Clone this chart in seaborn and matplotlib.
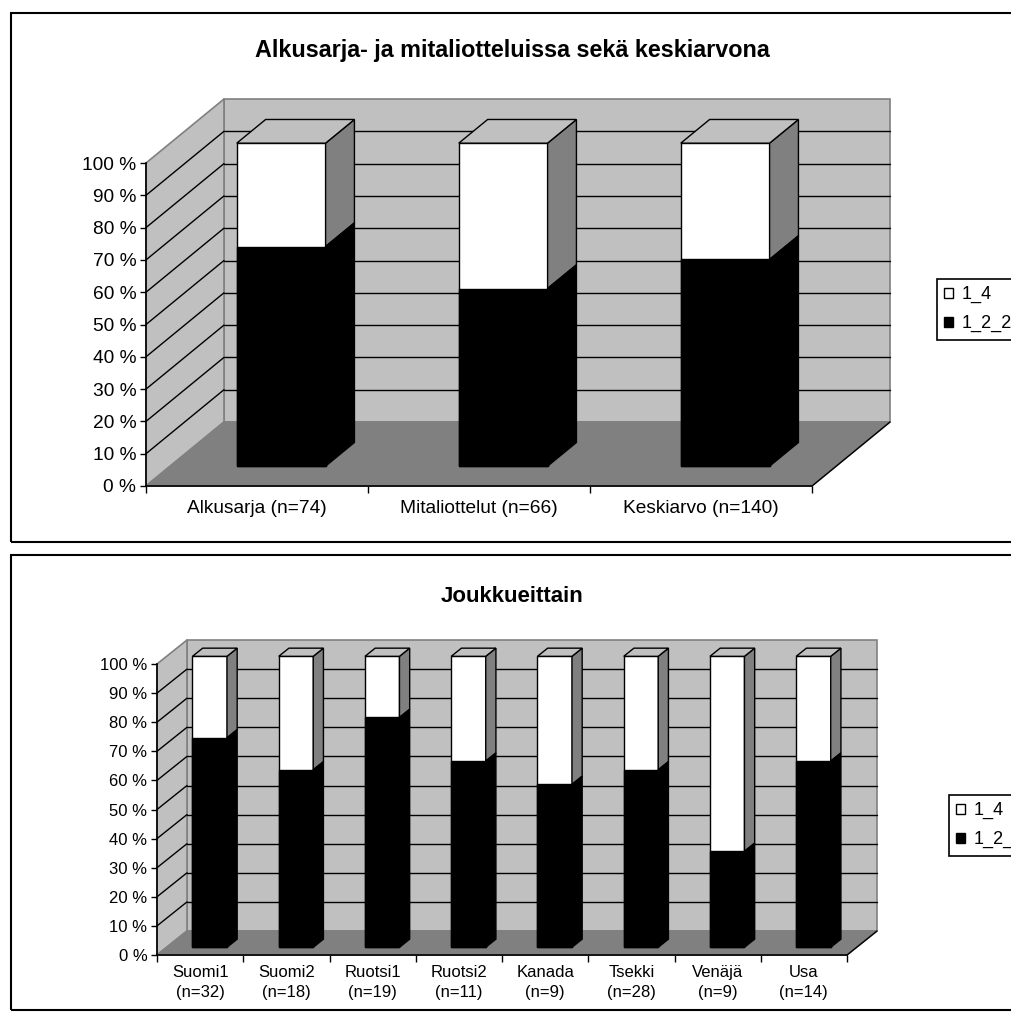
import numpy as np
import pandas as pd
import matplotlib
matplotlib.use("Agg")
import matplotlib.pyplot as plt
import seaborn as sns
from matplotlib.patches import Polygon, Rectangle, Patch
from matplotlib.lines import Line2D

sns.set_theme(style="white")
plt.rcParams["font.family"] = ["Liberation Sans", "DejaVu Sans"]

# ---- data -------------------------------------------------------------
phase_title = "Alkusarja- ja mitaliotteluissa sekä keskiarvona"
phase_labels = ["Alkusarja (n=74)", "Mitaliottelut (n=66)", "Keskiarvo (n=140)"]
phase_1_2_2 = [68, 55, 64]
phase_1_4 = [32, 45, 36]

team_title = "Joukkueittain"
team_labels = ["Suomi1\n(n=32)", "Suomi2\n(n=18)", "Ruotsi1\n(n=19)",
               "Ruotsi2\n(n=11)", "Kanada\n(n=9)", "Tsekki\n(n=28)",
               "Venäjä\n(n=9)", "Usa\n(n=14)"]
team_1_2_2 = [72, 61, 79, 64, 56, 61, 33, 64]
team_1_4 = [28, 39, 21, 36, 44, 39, 67, 36]

series_names = ["1_4", "1_2_2"]
pct_ticks = list(range(0, 101, 10))
pct_labels = [f"{t} %" for t in pct_ticks]

# ---- figure -----------------------------------------------------------
W, H = 1011, 1023
fig = plt.figure(figsize=(W / 100, H / 100), dpi=100)

WALL = "#c0c0c0"
FLOOR = "#808080"
SIDE = "#808080"
EDGE = "#808080"


def fig_rect(left, top, right, bottom):
    return [left / W, 1 - bottom / H, (right - left) / W, (bottom - top) / H]


def draw_chart(rect_px, labels, black_vals, white_vals, depth_px, bar_depth,
               fs, xpad, width=0.4, linespacing=1.2):
    left, top, right, bottom = rect_px
    ax = fig.add_axes(fig_rect(*rect_px))
    n = len(labels)
    w_px = right - left
    h_px = bottom - top
    DX = depth_px[0] / (w_px / n)
    DY = depth_px[1] / (h_px / 100.0)
    d0, d1 = bar_depth

    def P(x, y, d):
        return (x + d * DX, y + d * DY)

    totals = [b + w for b, w in zip(black_vals, white_vals)]
    df = pd.DataFrame({"label": labels, "total": totals, "black": black_vals})

    # front faces of the stacked bars
    sns.barplot(data=df, x="label", y="total", color="white", edgecolor="black",
                linewidth=1, width=width, saturation=1, errorbar=None, ax=ax,
                zorder=4)
    sns.barplot(data=df, x="label", y="black", color="black", edgecolor="black",
                linewidth=1, width=width, saturation=1, errorbar=None, ax=ax,
                zorder=5)
    for p in ax.patches:
        p.set_x(p.get_x() + d0 * DX)
        p.set_y(p.get_y() + d0 * DY)
        p.set_clip_on(False)

    # side and top faces
    for i, (b, t) in enumerate(zip(black_vals, totals)):
        xl, xr = i - width / 2, i + width / 2
        ax.add_patch(Polygon([P(xr, 0, d0), P(xr, 0, d1), P(xr, b, d1), P(xr, b, d0)],
                             closed=True, fc="black", ec="black", lw=1,
                             zorder=5, clip_on=False))
        ax.add_patch(Polygon([P(xr, b, d0), P(xr, b, d1), P(xr, t, d1), P(xr, t, d0)],
                             closed=True, fc=SIDE, ec="black", lw=1,
                             zorder=4, clip_on=False))
        ax.add_patch(Polygon([P(xl, t, d0), P(xr, t, d0), P(xr, t, d1), P(xl, t, d1)],
                             closed=True, fc=WALL, ec="black", lw=1,
                             zorder=4, clip_on=False))

    x0, x1 = -0.5, n - 0.5
    # walls and floor
    ax.add_patch(Polygon([P(x0, 0, 1), P(x1, 0, 1), P(x1, 100, 1), P(x0, 100, 1)],
                         closed=True, fc=WALL, ec=EDGE, lw=1.2, zorder=0.5,
                         clip_on=False))
    ax.add_patch(Polygon([P(x0, 0, 0), P(x0, 0, 1), P(x0, 100, 1), P(x0, 100, 0)],
                         closed=True, fc=WALL, ec=EDGE, lw=1.2, zorder=0.5,
                         clip_on=False))
    for v in pct_ticks[1:-1]:
        for a, b_ in ((P(x0, v, 1), P(x1, v, 1)), (P(x0, v, 0), P(x0, v, 1))):
            ax.add_line(Line2D([a[0], b_[0]], [a[1], b_[1]], color="black",
                               lw=1, zorder=0.7, clip_on=False))
    ax.add_patch(Polygon([P(x0, 0, 0), P(x1, 0, 0), P(x1, 0, 1), P(x0, 0, 1)],
                         closed=True, fc=FLOOR, ec=EDGE, lw=1.2, zorder=1,
                         clip_on=False))
    a, b_ = P(x1, 0, 0), P(x1, 0, 1)
    ax.add_line(Line2D([a[0], b_[0]], [a[1], b_[1]], color="black", lw=1,
                       zorder=1.2, clip_on=False))

    ax.set_xlim(x0, x1)
    ax.set_ylim(0, 100)
    ax.set_facecolor("none")
    for s in ("top", "right"):
        ax.spines[s].set_visible(False)
    for s in ("left", "bottom"):
        ax.spines[s].set_color("black")
        ax.spines[s].set_linewidth(1.2)
        ax.spines[s].set_zorder(6)

    ax.set_yticks(pct_ticks, pct_labels)
    ax.tick_params(axis="y", left=True, direction="out", length=4, width=1,
                   color="black", pad=3, labelsize=fs, labelcolor="black")
    ax.set_xticks(range(n), labels)
    for t in ax.get_xticklabels():
        t.set_linespacing(linespacing)
    ax.set_xticks(np.arange(-0.5, n), minor=True)
    ax.tick_params(axis="x", which="major", length=0, pad=xpad, labelsize=fs,
                   labelcolor="black")
    ax.tick_params(axis="x", which="minor", bottom=True, direction="out",
                   length=5, width=1, color="black")
    ax.set_xlabel("")
    ax.set_ylabel("")
    return ax


def legend_at(x_px, y_px, fs):
    handles = [Patch(fc="white", ec="black", lw=1, label=series_names[0]),
               Patch(fc="black", ec="black", lw=1, label=series_names[1])]
    leg = fig.legend(handles=handles, loc="upper left",
                     bbox_to_anchor=(x_px / W, 1 - y_px / H),
                     frameon=True, fancybox=False, edgecolor="black",
                     framealpha=1, borderaxespad=0, fontsize=fs,
                     handlelength=0.5, handleheight=0.5, handletextpad=0.45,
                     labelspacing=0.65, borderpad=0.4)
    leg.get_frame().set_linewidth(1.2)
    for t in leg.get_texts():
        t.set_color("black")
    return leg


# chart frames
fig.add_artist(Rectangle((11 / W, 1 - 542 / H), 1.2, (542 - 13) / H,
                         transform=fig.transFigure, fill=False, ec="black",
                         lw=1.5))
fig.add_artist(Rectangle((11 / W, 1 - 1010 / H), 1.2, (1010 - 555) / H,
                         transform=fig.transFigure, fill=False, ec="black",
                         lw=1.5))

# upper chart
draw_chart((146, 163, 812, 486), phase_labels, phase_1_2_2, phase_1_4,
           depth_px=(78, 64), bar_depth=(0.31, 0.68), fs=13.8, xpad=10)
fig.text(512 / W, 1 - 50 / H, phase_title, ha="center", va="center",
         fontsize=16.8, fontweight="bold", color="black")
legend_at(937, 279, 13)

# lower chart
draw_chart((157, 664, 847, 955), team_labels, team_1_2_2, team_1_4,
           depth_px=(30, 24), bar_depth=(0.32, 0.66), fs=12, xpad=7,
           linespacing=1.45)
fig.text(512 / W, 1 - 596 / H, team_title, ha="center", va="center",
         fontsize=16, fontweight="bold", color="black")
legend_at(949, 795, 13)

fig.savefig("out.png", dpi=100, facecolor="white")
